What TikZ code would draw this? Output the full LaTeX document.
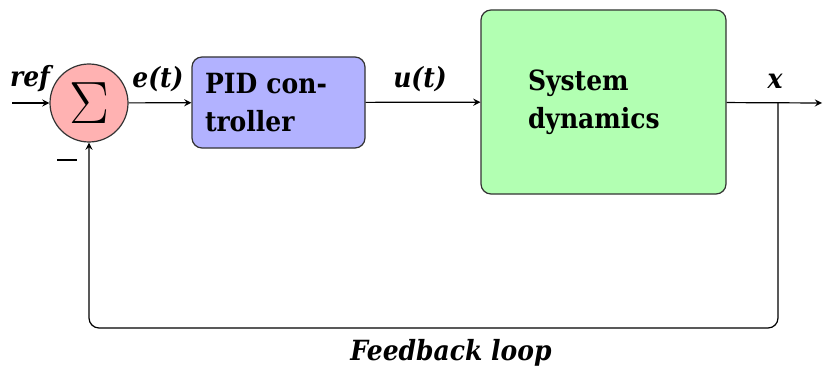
\documentclass[tikz,border=0pt]{standalone}
\usepackage{fontspec}
\setmainfont{DejaVu Serif}[FakeStretch=0.9]
\begin{document}
\begin{tikzpicture}[x=0.5pt,y=-0.5pt,>=stealth,line width=0.6pt,
    every node/.style={font=\fontsize{13.9}{19}\selectfont\bfseries},
    sumnode/.style={circle,draw=black!80,fill=red!30,minimum size=39pt,inner sep=0pt},
    block/.style={rectangle,rounded corners=5pt,draw=black!80,align=left},
    sig/.style={font=\fontsize{13.9}{19}\selectfont\bfseries\itshape}]
    \useasboundingbox (0,0) rectangle (824,369);
    % blocks
    \node[sumnode] (sum) at (89,103) {\scalebox{1.2}{\Huge$\Sigma$}};
    \node[block,fill=blue!30,minimum width=86.5pt,minimum height=45.5pt,text width=73.5pt] (pid) at (278.5,102.5) {PID con-\\troller};
    \node[block,fill=green!30,minimum width=122.5pt,minimum height=92pt,text width=75.5pt] (sys) at (603.5,102) {System\\dynamics};
    \coordinate (in) at (12,103);
    \coordinate (out) at (822,103);
    \coordinate (branch) at (778,103);
    \coordinate (fbcorner) at (89,328);
    % signals
    \draw[->] (in) -- (sum);
    \draw[->] (sum) -- (pid);
    \draw[->] (pid) -- (sys);
    \draw[->] (sys) -- (out);
    \draw[->,rounded corners=5pt] (branch) |- (fbcorner) -- (sum);
    % labels
    \node[sig] (lref) at (30,79) {ref};
    \node[sig] (lerr) at (158,79) {e(t)};
    \node[sig] (lu) at (420,79) {u(t)};
    \node[sig] (lx) at (775,81) {x};
    \node (lminus) at (67,160) {\rule{10pt}{1pt}};
    \node[sig] (lfb) at (451,353) {Feedback loop};
\end{tikzpicture}
\end{document}
